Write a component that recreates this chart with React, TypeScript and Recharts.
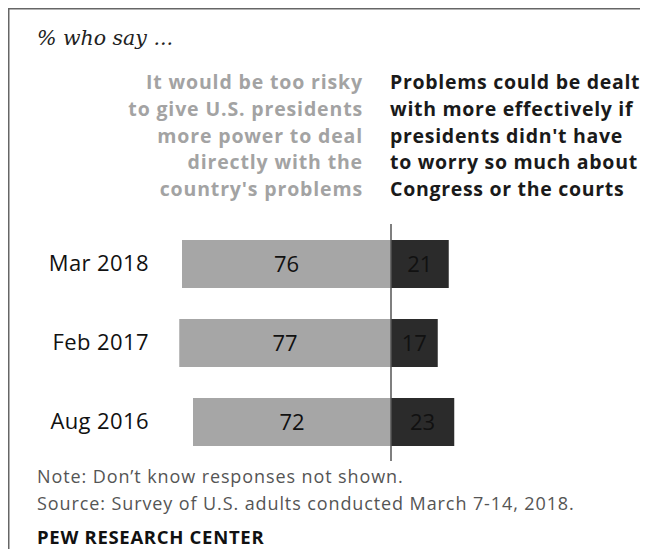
import React from 'react';
import { BarChart, Bar, XAxis, YAxis, ReferenceLine, LabelList } from 'recharts';

const dates = ['Mar 2018', 'Feb 2017', 'Aug 2016'];
const tooRisky = [76, 77, 72];
const moreEffective = [21, 17, 23];

const riskyLines = [
  'It would be too risky',
  'to give U.S. presidents',
  'more power to deal',
  'directly with the',
  "country's problems",
];
const effectiveLines = [
  'Problems could be dealt',
  'with more effectively if',
  "presidents didn't have",
  'to worry so much about',
  'Congress or the courts',
];

const data = dates.map((date, i) => ({
  date,
  risky: -tooRisky[i],
  effective: moreEffective[i],
}));

const SANS = '"Open Sans", Roboto, sans-serif';

export default function App() {
  return (
    <div style={{ position: 'relative', width: 600, height: 541 }}>
      <div style={{ position: 'absolute', left: 0, top: 200 }}>
        <BarChart
          width={500}
          height={260}
          data={data}
          layout="vertical"
          stackOffset="sign"
          margin={{ top: 16, right: 34.5, bottom: 7, left: 0 }}
        >
          <XAxis type="number" domain={[-80, 30]} hide />
          <YAxis
            type="category"
            dataKey="date"
            width={163}
            axisLine={false}
            tickLine={false}
            tickSize={0}
            tickMargin={22}
            tick={{ fontSize: 22, fill: '#111', fontFamily: SANS, letterSpacing: 0.4 }}
          />
          <Bar dataKey="risky" stackId="a" fill="#a6a6a6" barSize={48} isAnimationActive={false}>
            <LabelList
              dataKey="risky"
              position="center"
              formatter={(v: number) => Math.abs(v)}
              style={{ fontSize: 22, fill: '#111', fontFamily: SANS }}
            />
          </Bar>
          <Bar dataKey="effective" stackId="a" fill="#2b2b2b" barSize={48} isAnimationActive={false}>
            <LabelList
              dataKey="effective"
              position="center"
              formatter={(v: number) => Math.abs(v)}
              style={{ fontSize: 22, fill: '#111', fontFamily: SANS }}
            />
          </Bar>
          <ReferenceLine x={0} stroke="#555" strokeWidth={1.5} />
        </BarChart>
      </div>
      <svg
        width={600}
        height={541}
        style={{ position: 'absolute', left: 0, top: 0, pointerEvents: 'none', overflow: 'visible' }}
      >
        <path d="M0.75,541 L0.75,0.75 L640,0.75" fill="none" stroke="#666" strokeWidth={1.5} />
        <text x={29} y={37} fontFamily='"DejaVu Serif", serif' fontStyle="italic" fontSize={20.5} fill="#222">
          % who say ...
        </text>
        {riskyLines.map((line, i) => (
          <text
            key={line}
            x={355}
            y={81 + i * 26.75}
            textAnchor="end"
            fontFamily={SANS}
            fontWeight="bold"
            fontSize={19.5}
            letterSpacing={0.85}
            fill="#a3a3a3"
          >
            {line}
          </text>
        ))}
        {effectiveLines.map((line, i) => (
          <text
            key={line}
            x={382}
            y={81 + i * 26.75}
            fontFamily={SANS}
            fontWeight="bold"
            fontSize={19.5}
            letterSpacing={0.7}
            fill="#1a1a1a"
          >
            {line}
          </text>
        ))}
        <text x={29} y={475} fontFamily={SANS} fontSize={18} letterSpacing={0.9} fill="#555">
          Note: Don’t know responses not shown.
        </text>
        <text x={29} y={502} fontFamily={SANS} fontSize={18} letterSpacing={0.9} fill="#555">
          Source: Survey of U.S. adults conducted March 7-14, 2018.
        </text>
        <text x={29} y={536} fontFamily={SANS} fontWeight="bold" fontSize={18.5} letterSpacing={0.7} fill="#111">
          PEW RESEARCH CENTER
        </text>
      </svg>
    </div>
  );
}
